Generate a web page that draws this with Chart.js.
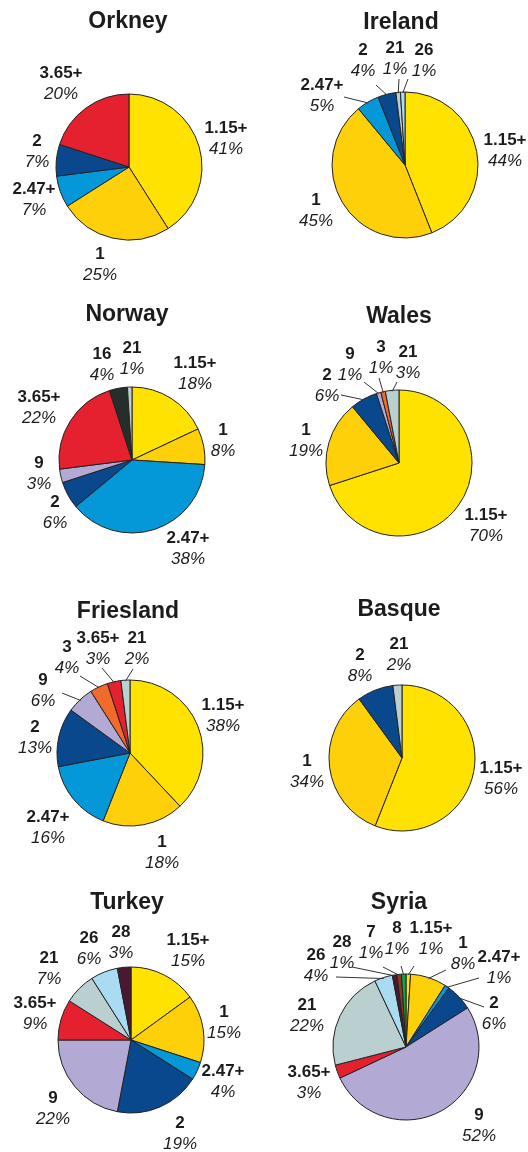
<!DOCTYPE html>
<html><head><meta charset="utf-8">
<script src="https://cdn.jsdelivr.net/npm/chart.js@4.4.0/dist/chart.umd.min.js"></script>
<style>
html,body{margin:0;padding:0;background:#fff;width:528px;height:1152px;overflow:hidden;position:relative}
canvas{position:absolute}
</style></head><body>
<script>
// ---- data ----
const regions = ['Orkney','Ireland','Norway','Wales','Friesland','Basque','Turkey','Syria'];

const orkneyCategories = ['1.15+','1','2.47+','2','3.65+'];
const orkneyValues     = [41,25,7,7,20];

const irelandCategories = ['1.15+','1','2.47+','2','21','26'];
const irelandValues     = [44,45,5,4,1,1];

const norwayCategories = ['1.15+','1','2.47+','2','9','3.65+','16','21'];
const norwayValues     = [18,8,38,6,3,22,4,1];

const walesCategories = ['1.15+','1','2','9','3','21'];
const walesValues     = [70,19,6,1,1,3];

const frieslandCategories = ['1.15+','1','2.47+','2','9','3','3.65+','21'];
const frieslandValues     = [38,18,16,13,6,4,3,2];

const basqueCategories = ['1.15+','1','2','21'];
const basqueValues     = [56,34,8,2];

const turkeyCategories = ['1.15+','1','2.47+','2','9','3.65+','21','26','28'];
const turkeyValues     = [15,15,4,19,22,9,7,6,3];

const syriaCategories = ['1.15+','1','2.47+','2','9','3.65+','21','26','28','7','8'];
const syriaValues     = [1,8,1,6,52,3,22,4,1,1,1];

// ---- styles ----
const categoryColors = {
  '1.15+':'#FFE200','1':'#FDD00A','2.47+':'#0598D9','2':'#0A488D','3.65+':'#E5212F',
  '9':'#B3A9D5','3':'#F06B2B','21':'#B9CFD0','16':'#252E2A','26':'#A9DCF3',
  '28':'#4A1832','7':'#8C3B1D','8':'#12A04E'
};

// layout: [col,row, pie centre x, pie centre y, title x, title y] (absolute px)
const layout = [
  [0,0,129,167,128,22],[1,0,405,165,401,23],
  [0,1,132,460,127,315],[1,1,399,463,399,317],
  [0,2,130,753,128,612],[1,2,402,758,399,610],
  [0,3,131,1040,127,903],[1,3,406,1047,399,903]
];

// label anchors relative to pie centre, optional leader start
const labelPlaces = [
  {'1.15+':[97,-39],'1':[-29,87],'2.47+':[-95,22],'2':[-92,-26],'3.65+':[-68,-94]},
  {'1.15+':[100,-25],'1':[-89,35],'2.47+':[-83,-80,[-61,-68]],'2':[-42,-115,[-29,-80]],'21':[-10,-117,[-6,-86]],'26':[19,-115,[3,-86]]},
  {'1.15+':[63,-97],'1':[91,-30],'2.47+':[56,78],'2':[-77,42],'9':[-93,3],'3.65+':[-93,-63],'16':[-30,-106],'21':[0,-112]},
  {'1.15+':[87,52],'1':[-93,-33],'2':[-72,-88,[-58,-68]],'9':[-49,-109,[-35,-81]],'3':[-18,-116,[-20,-85]],'21':[9,-111,[-2,-81]]},
  {'1.15+':[93,-48],'1':[32,89],'2.47+':[-82,64],'2':[-95,-26],'9':[-87,-73,[-68,-60]],'3':[-63,-106,[-50,-77]],'3.65+':[-32,-115,[-28,-85]],'21':[7,-115,[3,-84]]},
  {'1.15+':[99,10],'1':[-95,3],'2':[-42,-103],'21':[-3,-114]},
  {'1.15+':[57,-100],'1':[93,-28],'2.47+':[92,31],'2':[49,83],'9':[-78,58],'3.65+':[-96,-37],'21':[-82,-82],'26':[-42,-102],'28':[-10,-108]},
  {'1.15+':[25,-119,[8,-81]],'8':[-9,-119,[-5,-81]],'7':[-35,-115,[-23,-80]],'28':[-64,-105,[-54,-80]],'26':[-90,-92,[-70,-70]],'21':[-99,-42],'3.65+':[-97,25],'9':[73,68],'2':[88,-44,[78,-40]],'2.47+':[93,-90,[73,-69]],'1':[57,-104,[40,-77]]}
];

const allCategories = [orkneyCategories,irelandCategories,norwayCategories,walesCategories,frieslandCategories,basqueCategories,turkeyCategories,syriaCategories];
const allValues = [orkneyValues,irelandValues,norwayValues,walesValues,frieslandValues,basqueValues,turkeyValues,syriaValues];

const FONT = '"Liberation Sans", Arial, Helvetica, sans-serif';
const TEXT = '#1c1c1c';

const labelPlugin = {
  id: 'sliceLabels',
  afterDatasetsDraw(chart, args, opts) {
    const ctx = chart.ctx;
    const meta = chart.getDatasetMeta(0);
    const cats = chart.data.labels;
    const vals = chart.data.datasets[0].data;
    ctx.save();
    ctx.textAlign = 'center';
    ctx.textBaseline = 'middle';
    ctx.fillStyle = TEXT;
    ctx.strokeStyle = '#333';
    ctx.lineWidth = 1;
    meta.data.forEach((arc, i) => {
      const p = opts.place[cats[i]];
      if (!p) return;
      const {x, y, startAngle, endAngle, outerRadius} = arc.getProps(['x','y','startAngle','endAngle','outerRadius'], true);
      if (p[2]) {
        const mid = (startAngle + endAngle) / 2;
        ctx.beginPath();
        ctx.moveTo(x + p[2][0], y + p[2][1]);
        ctx.lineTo(x + Math.cos(mid) * (outerRadius - 1), y + Math.sin(mid) * (outerRadius - 1));
        ctx.stroke();
      }
      const lx = x + p[0], ly = y + p[1];
      ctx.font = 'bold 17px ' + FONT;
      ctx.fillText(cats[i], lx, ly);
      ctx.font = 'italic 17px ' + FONT;
      ctx.fillText(vals[i] + '%', lx, ly + 21);
    });
    ctx.font = 'bold 23px ' + FONT;
    ctx.fillText(opts.title, opts.titleX, opts.titleY);
    ctx.restore();
  }
};

const CW = 264, CH = 308, R = 73.5;
regions.forEach((name, k) => {
  const [col,row,cx,cy,tx,ty] = layout[k];
  const left = col * 264, top = row * 288 - 14;
  const cv = document.createElement('canvas');
  cv.width = CW; cv.height = CH;
  cv.style.left = left + 'px'; cv.style.top = top + 'px';
  cv.style.width = CW + 'px'; cv.style.height = CH + 'px';
  document.body.appendChild(cv);
  const rx = cx - left, ry = cy - top;
  new Chart(cv, {
    type: 'pie',
    data: {
      labels: allCategories[k],
      datasets: [{
        data: allValues[k],
        backgroundColor: allCategories[k].map(c => categoryColors[c]),
        borderColor: '#222',
        borderWidth: 1
      }]
    },
    options: {
      responsive: false,
      animation: false,
      devicePixelRatio: 1,
      layout: { padding: { left: rx - R, top: ry - R, right: CW - (rx + R), bottom: CH - (ry + R) } },
      plugins: {
        legend: { display: false },
        tooltip: { enabled: false },
        sliceLabels: { place: labelPlaces[k], title: name, titleX: tx - left, titleY: ty - top }
      }
    },
    plugins: [labelPlugin]
  });
});
</script>
</body></html>
